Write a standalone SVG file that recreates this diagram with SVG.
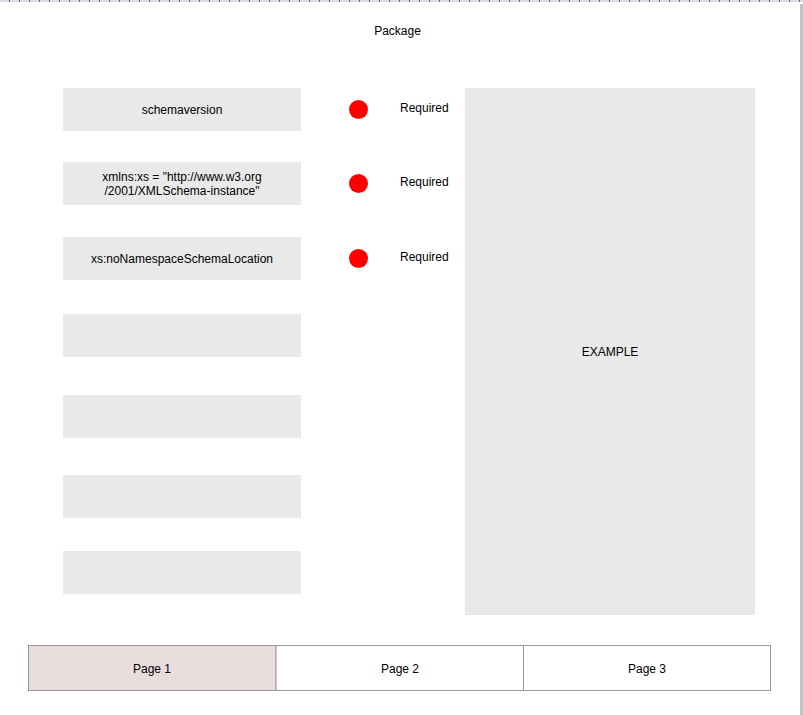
<svg xmlns="http://www.w3.org/2000/svg" width="803" height="715" viewBox="0 0 803 715">
  <style>
    text { font-family: "Liberation Sans", Arial, sans-serif; font-size: 12px; fill: #000; }
    .field { fill: #e9e9e9; }
    .dot { fill: #ff0000; }
    .tab { stroke: #999999; stroke-width: 1; }
  </style>
  <defs>
    <pattern id="ticks" x="0" y="0" width="10" height="3" patternUnits="userSpaceOnUse">
      <rect x="9" y="0" width="1" height="2" fill="#666666"/>
    </pattern>
  </defs>
  <rect width="803" height="715" fill="#ffffff"/>
  <g id="ruler">
    <rect x="0" y="0" width="803" height="2" fill="#dcdae4"/>
    <rect x="0" y="0" width="800" height="2" fill="url(#ticks)"/>
    <rect x="800" y="4" width="3" height="711" fill="#c2c2c2"/>
  </g>
  <g id="title"><text x="397.5" y="35" text-anchor="middle">Package</text></g>

  <g id="field1">
    <rect class="field" x="63" y="88" width="238" height="43"/>
    <text x="182" y="114" text-anchor="middle">schemaversion</text>
  </g>
  <g id="req1">
    <circle class="dot" cx="358.5" cy="109.5" r="9.5"/>
    <text x="400" y="112">Required</text>
  </g>
  <g id="field2">
    <rect class="field" x="63" y="162" width="238" height="43"/>
    <text x="182" y="181" text-anchor="middle">xmlns:xs = "http://www.w3.org</text>
    <text x="182" y="195" text-anchor="middle">/2001/XMLSchema-instance"</text>
  </g>
  <g id="req2">
    <circle class="dot" cx="358.5" cy="183.5" r="9.5"/>
    <text x="400" y="185.5">Required</text>
  </g>
  <g id="field3">
    <rect class="field" x="63" y="237" width="238" height="43"/>
    <text x="182" y="263" text-anchor="middle">xs:noNamespaceSchemaLocation</text>
  </g>
  <g id="req3">
    <circle class="dot" cx="358.5" cy="258.5" r="9.5"/>
    <text x="400" y="260.5">Required</text>
  </g>
  <g id="field4"><rect class="field" x="63" y="314" width="238" height="43"/></g>
  <g id="field5"><rect class="field" x="63" y="395" width="238" height="43"/></g>
  <g id="field6"><rect class="field" x="63" y="475" width="238" height="43"/></g>
  <g id="field7"><rect class="field" x="63" y="551" width="238" height="43"/></g>

  <g id="example">
    <rect class="field" x="465" y="88" width="290" height="527"/>
    <text x="610" y="356" text-anchor="middle">EXAMPLE</text>
  </g>

  <g id="page1">
    <rect class="tab" x="28.5" y="645.5" width="247.5" height="45" fill="#e8dcdc"/>
    <text x="152" y="673" text-anchor="middle">Page 1</text>
  </g>
  <g id="page2">
    <rect class="tab" x="276" y="645.5" width="247.5" height="45" fill="#ffffff"/>
    <text x="400" y="673" text-anchor="middle">Page 2</text>
  </g>
  <g id="page3">
    <rect class="tab" x="523.5" y="645.5" width="247" height="45" fill="#ffffff"/>
    <text x="647" y="673" text-anchor="middle">Page 3</text>
  </g>
  <g id="connectors"/>
</svg>
